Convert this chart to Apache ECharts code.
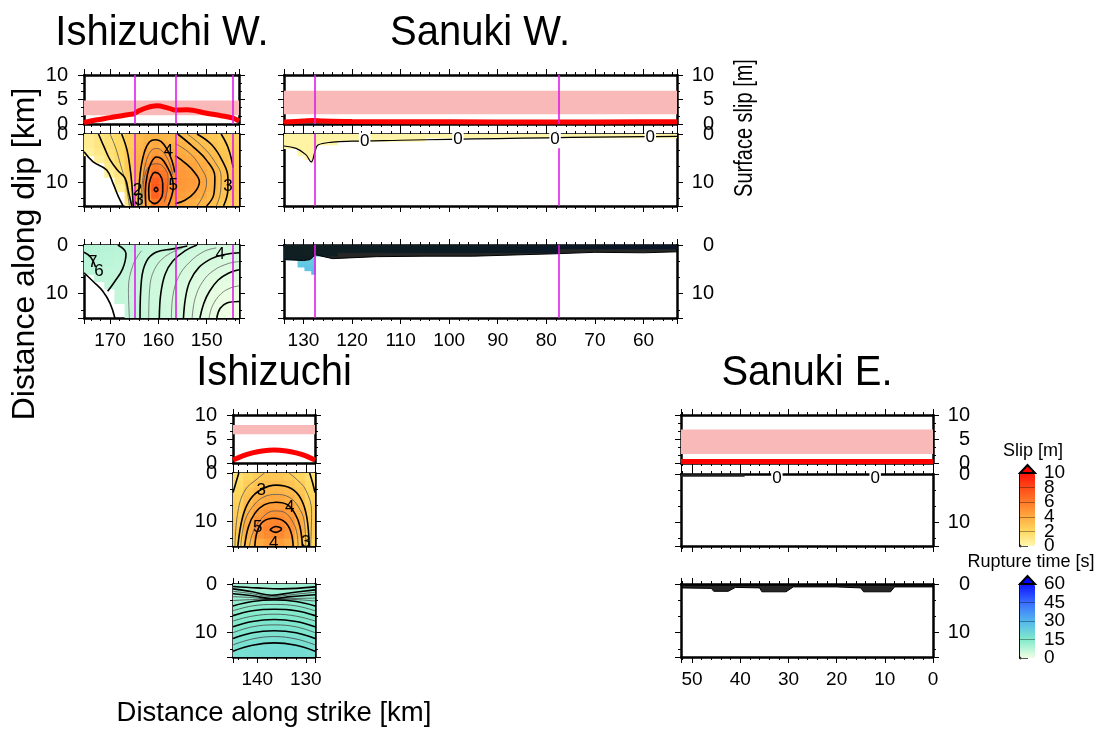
<!DOCTYPE html>
<html><head><meta charset="utf-8">
<script src="https://cdn.jsdelivr.net/npm/echarts@6/dist/echarts.min.js"></script>
<style>html,body{margin:0;padding:0;background:#fff}#c{width:1107px;height:733px}</style>
</head><body><div id="c"></div>
<script>
const FONT = "'Liberation Sans', Arial, Helvetica, sans-serif";

// ---------------- data ----------------
const depthEdges = [0, 1.5, 3, 4.5, 6, 7.5, 9, 10.5, 12, 13.5, 15];

// Ishizuchi W. (strike km)
const iwX = [175.4, 173.3, 171.2, 169.1, 167.0, 164.8, 163.1, 161.5, 159.8, 158.2, 156.5, 154.3, 152.1, 149.9, 147.7, 145.5, 143.3];
const iwSlip = [
  [0.8, 1.2, 1.5, 1.8, 2.4, 3.2, 3.5, 3.6, 3.5, 3.3, 3.3, 3.1, 2.9, 2.7, 2.4, 2.2],
  [0.8, 1.2, 1.5, 1.9, 2.5, 3.3, 3.8, 4.0, 3.9, 3.6, 3.6, 3.4, 3.1, 2.9, 2.6, 2.3],
  [0.5, 1.0, 1.4, 1.9, 2.6, 3.5, 4.2, 4.6, 4.4, 4.0, 3.9, 3.7, 3.4, 3.1, 2.8, 2.4],
  [null, 0.6, 1.2, 1.8, 2.6, 3.6, 4.6, 5.2, 4.9, 4.4, 4.2, 4.0, 3.7, 3.3, 2.9, 2.5],
  [null, null, 0.9, 1.6, 2.6, 3.8, 5.0, 5.9, 5.5, 4.8, 4.5, 4.3, 3.9, 3.5, 3.0, 2.6],
  [null, null, 0.5, 1.3, 2.5, 3.8, 5.5, 6.6, 6.1, 5.1, 4.7, 4.5, 4.1, 3.6, 3.1, 2.7],
  [null, null, null, 1.0, 2.3, 3.6, 5.8, 7.2, 6.6, 5.2, 4.8, 4.6, 4.2, 3.7, 3.1, 2.7],
  [null, null, null, 0.5, 2.0, 3.2, 5.8, 7.5, 6.8, 5.2, 4.7, 4.5, 4.1, 3.6, 3.0, 2.6],
  [null, null, null, null, 1.6, 2.8, 5.2, 7.0, 6.4, 5.0, 4.4, 4.2, 3.9, 3.4, 2.9, 2.5],
  [null, null, null, null, 1.2, 2.3, 4.2, 6.0, 5.6, 4.6, 4.0, 3.8, 3.5, 3.1, 2.7, 2.3]
];
const iwRupt = [
  [8.2, 8.0, 7.8, 7.5, 7.2, 6.9, 6.5, 6.2, 6.0, 5.8, 5.3, 4.9, 4.6, 4.3, 4.1, 4.0],
  [7.9, 7.6, 7.3, 7.0, 6.7, 6.4, 6.0, 5.6, 5.3, 5.0, 4.7, 4.4, 4.1, 3.9, 3.7, 3.6],
  [7.6, 7.2, 6.9, 6.6, 6.3, 6.0, 5.6, 5.2, 4.8, 4.5, 4.2, 3.9, 3.6, 3.4, 3.2, 3.1],
  [7.3, 6.9, 6.6, 6.3, 6.0, 5.7, 5.3, 4.9, 4.5, 4.1, 3.8, 3.4, 3.1, 2.8, 2.6, 2.5],
  [null, 6.7, 6.4, 6.1, 5.8, 5.5, 5.1, 4.7, 4.3, 3.9, 3.5, 3.0, 2.6, 2.3, 2.0, 1.9],
  [null, null, 6.3, 6.0, 5.7, 5.4, 5.0, 4.6, 4.2, 3.8, 3.3, 2.7, 2.2, 1.8, 1.5, 1.3],
  [null, null, null, 6.0, 5.7, 5.4, 5.0, 4.6, 4.2, 3.8, 3.2, 2.5, 1.9, 1.4, 1.0, 0.8],
  [null, null, null, 6.1, 5.8, 5.5, 5.1, 4.7, 4.3, 3.9, 3.2, 2.5, 1.8, 1.2, 0.7, 0.5],
  [null, null, null, null, 6.0, 5.7, 5.3, 4.9, 4.5, 4.1, 3.4, 2.6, 1.8, 1.1, 0.5, 0.3],
  [null, null, null, null, 6.3, 6.0, 5.6, 5.2, 4.8, 4.4, 3.6, 2.8, 2.0, 1.2, 0.5, 0.2]
];
// slip contours [strike km, depth km]
const iwSlipContours = [
  [[175.4, 3.7], [173.5, 5.8], [170.7, 7.5], [169.3, 10.5], [168.3, 13], [167.3, 15]],
  [[172.4, 0], [171.2, 2.8], [170.0, 5.4], [168.4, 7.6], [166.9, 9.2], [166.2, 12], [165.5, 15]],
  [[167.6, 0], [166.5, 3.3], [165.9, 6.8], [165.5, 10.3], [165.2, 15]],
  [[164.2, 15], [164.0, 11], [163.6, 7], [162.8, 3.5], [161.8, 1.6], [160.6, 1.2], [159.4, 1.6], [158.2, 3.2], [157.2, 5.5], [156.6, 8]],
  [[162.6, 15], [162.7, 12], [162.3, 8.5], [161.5, 6.0], [160.4, 4.8], [159.3, 5.2], [158.2, 6.8], [157.2, 9], [156.9, 11.0], [157.4, 13.4], [158.0, 15]],
  [[161.9, 13.8], [162.0, 11.5], [161.6, 9.2], [160.7, 8.0], [159.7, 8.5], [159.1, 10.2], [159.1, 12.2], [159.7, 13.8], [160.8, 14.5], [161.9, 13.8]],
  [[160.9, 11.6], [160.5, 11.1], [160.1, 11.6], [160.5, 12.0], [160.9, 11.6]],
  [[156.5, 4.5], [154.5, 6.0], [152.5, 8.0], [151.5, 10.0], [152.5, 12.2], [154.5, 13.8], [156.5, 14.5]],
  [[156.0, 0], [153.0, 2.5], [150.0, 5.5], [148.3, 9.0], [148.5, 12.5], [150.0, 15]],
  [[152.0, 0], [149.0, 2.2], [146.8, 5.5], [145.6, 9.0], [145.6, 11.5], [146.5, 15]],
  [[147.0, 0], [145.5, 3.0], [144.5, 7.0]]
];
const iwSlipThin = [
  [[170.0, 0], [168.8, 3.0], [167.8, 6.5], [166.8, 10.0], [166.0, 15]],
  [[163.8, 15], [163.3, 10], [162.6, 6.0], [161.5, 3.5], [160.3, 3.0], [159.0, 3.8], [157.8, 5.8], [157.0, 8.5]],
  [[163.4, 15], [163.2, 12], [162.9, 9], [162.0, 6.8], [160.5, 6.2], [159.0, 6.8], [158.0, 9.0], [158.2, 12.0], [158.8, 14.2]],
  [[156.5, 2.0], [153.5, 4.0], [151.2, 7.0], [150.0, 10.0], [150.8, 13.0], [152.0, 15]],
  [[154.0, 0], [151.0, 2.5], [148.5, 5.5], [147.0, 9.0], [147.2, 12.5], [148.0, 15]]
];
const iwSlipLabels = [[157.9, 3.7, '4'], [156.9, 10.6, '5'], [145.6, 11.0, '3'], [164.3, 11.8, '2'], [164.0, 13.8, '3']];
const iwRuptContours = [
  [[147.9, 15], [147.2, 13], [145.8, 11.9], [143.3, 11.6]],
  [[151.4, 15], [150.6, 12], [149.4, 9.5], [147.6, 7.2], [145.5, 5.8], [143.3, 5.1]],
  [[154.8, 15], [154.4, 11], [153.5, 7.5], [151.6, 4.6], [149.0, 2.8], [146.5, 2.0], [143.3, 1.6]],
  [[159.8, 15], [159.5, 10], [158.6, 6.0], [157.0, 3.3], [154.5, 1.2], [152.0, 0]],
  [[163.8, 15], [163.5, 7.2], [162.5, 3.4], [160.5, 1.5], [157.0, 0.8], [154.0, 0.2]],
  [[175.4, 5.7], [173.5, 7.5], [171.5, 9.5], [170.0, 12], [169.0, 15]],
  [[168.4, 0], [166.7, 1.8], [167.4, 4.9], [169.1, 7.6], [170.5, 9.5]],
  [[175.4, 1.5], [174.0, 2.5], [173.0, 4.5]]
];
const iwRuptThin = [
  [[149.5, 15], [148.8, 12.5], [147.0, 10.0], [145.0, 8.8], [143.3, 8.4]],
  [[153.0, 15], [152.4, 11.0], [150.8, 7.5], [148.5, 5.2], [145.5, 3.8], [143.3, 3.4]],
  [[157.3, 15], [157.0, 10.5], [155.8, 6.5], [153.5, 3.5], [150.5, 1.3], [148.0, 0.6]],
  [[162.0, 15], [161.8, 9.0], [160.8, 5.0], [158.5, 2.3], [155.0, 0.6]],
  [[166.0, 15], [166.2, 9.0], [165.2, 4.0], [163.5, 1.2]]
];
const iwRuptLabels = [[147.2, 2.0, '4'], [173.6, 3.6, '7'], [172.3, 5.4, '6']];
const iwSurf1 = [[175.4, 0.3], [173, 0.8], [170, 1.3], [167, 1.8], [164.8, 2.1]];
const iwSurf2 = [[164.8, 2.2], [164, 2.7], [162.5, 3.3], [160.3, 3.7], [158.5, 3.4], [156.5, 2.8]];
const iwSurf3 = [[156.5, 2.85], [154, 2.9], [150, 2.2], [147, 1.7], [144.5, 1.2], [143.3, 0.6]];
const iwBand = [1.8, 4.8];
const iwFaults = [164.8, 156.5, 144.5];

// Sanuki W.
const swX = [134.0, 132.6, 131.2, 129.8, 128.4, 127.6, 126, 123, 119, 113, 105, 95, 85, 77.4, 70, 62, 53.1];
const swDepth = [0, 0.75, 1.5, 2.25, 3, 3.75, 4.5, 5.25, 6];
const swSlip = [
  [0.3, 0.3, 0.3, 0.3, 0.3, 0.3, 0.3, 0.3, 0.3, 0.2, 0.2, 0.2, 0.2, 0.2, 0.2, 0.2],
  [0.3, 0.3, 0.3, 0.3, 0.3, 0.3, 0.3, 0.2, 0.2, 0.2, null, null, null, null, null, null],
  [0.3, 0.3, 0.3, 0.3, 0.3, 0.2, 0.2, null, null, null, null, null, null, null, null, null],
  [0.2, 0.3, 0.3, 0.3, 0.3, null, null, null, null, null, null, null, null, null, null, null],
  [null, null, 0.3, 0.3, 0.3, null, null, null, null, null, null, null, null, null, null, null],
  [null, null, 0.2, 0.3, 0.3, null, null, null, null, null, null, null, null, null, null, null],
  [null, null, null, 0.2, 0.3, null, null, null, null, null, null, null, null, null, null, null],
  [null, null, null, null, 0.2, null, null, null, null, null, null, null, null, null, null, null]
];
const swRupt = [
  [22, 21, 20, 20, 21, 22, 23, 24, 25, 27, 29, 31, 33, 35, 37, 39],
  [23, 22, 21, 21, 22, 23, 24, 25, 26, 28, 30, 32, 34, null, null, null],
  [24, 23, 22, 22, 23, 24, 25, null, null, null, null, null, null, null, null, null],
  [25, 24, 23, 23, 24, null, null, null, null, null, null, null, null, null, null, null],
  [null, null, 24, 24, 25, null, null, null, null, null, null, null, null, null, null, null],
  [null, null, 25, 25, 26, null, null, null, null, null, null, null, null, null, null, null],
  [null, null, null, 26, 27, null, null, null, null, null, null, null, null, null, null, null],
  [null, null, null, null, 28, null, null, null, null, null, null, null, null, null, null, null]
];
const swSlipContour = [[134, 2.5], [131.5, 3.0], [129.5, 4.3], [128.4, 5.8], [127.6, 3.6], [127.0, 2.3], [124, 1.7], [120, 1.5], [110, 1.3], [100, 1.1], [90, 0.95], [80, 0.8], [70, 0.65], [60, 0.55], [53.1, 0.5]];
const swZeroLabels = [[117.4, 1.5, '0'], [98.2, 1.1, '0'], [78.2, 1.2, '0'], [58.6, 0.7, '0']];
const swRuptClutter = [[134, 3.0], [130, 3.2], [128.6, 3.0], [127.6, 2.0], [124, 2.8], [115, 2.4], [105, 2.3], [95, 2.3], [85, 2.0], [78, 1.8], [70, 1.5], [60, 1.6], [53.1, 1.4]];
const swSurf = [[134, 0.4], [130, 0.6], [128, 0.7], [126, 0.6], [120, 0.5], [100, 0.45], [80, 0.4], [60, 0.45], [53.1, 0.45]];
const swBand = [2.0, 6.8];
const swFaults = [127.6, 77.4];

// Ishizuchi
const isX = [145.0, 142.9, 140.8, 138.7, 136.6, 134.4, 132.3, 130.2, 128.1];
const isSlip = [
  [1.5, 2.1, 2.5, 2.7, 2.7, 2.5, 2.1, 1.5],
  [1.8, 2.5, 2.9, 3.1, 3.1, 2.9, 2.5, 1.8],
  [2.0, 2.8, 3.3, 3.5, 3.5, 3.3, 2.8, 2.0],
  [2.2, 3.1, 3.7, 4.0, 4.0, 3.7, 3.1, 2.2],
  [2.4, 3.4, 4.2, 4.5, 4.5, 4.1, 3.4, 2.4],
  [2.5, 3.7, 4.6, 5.0, 5.0, 4.6, 3.7, 2.5],
  [2.6, 3.9, 5.0, 5.4, 5.5, 4.9, 3.9, 2.6],
  [2.6, 4.0, 5.1, 5.6, 5.6, 5.0, 3.9, 2.6],
  [2.5, 3.8, 4.8, 5.3, 5.3, 4.7, 3.6, 2.4],
  [2.2, 3.2, 4.0, 4.5, 4.5, 4.0, 3.0, 2.0]
];
const isRupt = [
  [11.0, 10.5, 10.5, 10.8, 11.0, 11.2, 11.5, 11.8],
  [12.0, 11.6, 11.7, 11.9, 12.1, 12.3, 12.5, 12.6],
  [13.0, 12.8, 12.9, 13.1, 13.3, 13.4, 13.5, 13.5],
  [13.8, 13.9, 14.1, 14.3, 14.4, 14.4, 14.4, 14.2],
  [14.5, 14.8, 15.1, 15.3, 15.4, 15.4, 15.2, 15.0],
  [15.2, 15.6, 16.0, 16.2, 16.3, 16.2, 16.0, 15.7],
  [15.9, 16.4, 16.8, 17.1, 17.2, 17.1, 16.8, 16.4],
  [16.6, 17.1, 17.6, 17.9, 18.0, 17.9, 17.6, 17.1],
  [17.3, 17.8, 18.3, 18.7, 18.8, 18.7, 18.3, 17.8],
  [18.0, 18.5, 19.0, 19.4, 19.5, 19.4, 19.0, 18.5]
];
const isSlipContours = [
  [[144.0, 15], [143.0, 9], [141.5, 5.5], [139.2, 3.4], [136.1, 2.5], [133.0, 3.2], [131.0, 5.3], [129.8, 9], [129.3, 15]],
  [[142.6, 15], [141.8, 11], [140.5, 8.3], [138.5, 6.5], [136.1, 6.0], [133.8, 6.5], [132.2, 8.4], [131.2, 11], [130.7, 15]],
  [[140.5, 15], [140.0, 12], [138.8, 10.0], [136.6, 9.3], [134.4, 10.0], [133.1, 12], [132.6, 15]],
  [[137.4, 11.7], [136.2, 11.0], [135.0, 11.5], [136.2, 12.2], [137.4, 11.7]],
  [[145.0, 4.0], [144.4, 2.0], [143.8, 0]],
  [[128.1, 4.0], [128.6, 2.0], [129.2, 0]]
];
const isSlipThin = [
  [[144.6, 15], [144.0, 8], [142.5, 3.5], [140.0, 1.2], [138.5, 0]],
  [[129.0, 15], [128.8, 8], [130.0, 3.5], [132.0, 1.2], [133.5, 0]],
  [[143.4, 15], [142.6, 10], [141.0, 7.0], [138.8, 5.0], [136.1, 4.4], [133.4, 5.0], [131.5, 7.0], [130.3, 10], [130.0, 15]],
  [[141.6, 15], [141.0, 12.5], [139.8, 10.2], [137.8, 8.2], [136.1, 7.8], [134.2, 8.2], [132.6, 10.2], [131.8, 12.5], [131.6, 15]]
];
const isSlipLabels = [[139.2, 3.6, '3'], [133.3, 7.0, '4'], [139.9, 11.1, '5'], [136.6, 14.4, '4'], [130.0, 14.3, '3']];
const isRuptContours = [
  [[145, 0.5], [140, 0.8], [135, 1.0], [128.1, 0.6]],
  [[145, 1.0], [141, 1.6], [137, 2.3], [133, 1.8], [128.1, 1.2]],
  [[145, 2.0], [141, 2.4], [137, 3.0], [133, 2.6], [128.1, 2.2]],
  [[145, 4.5], [141, 3.6], [136.5, 3.3], [132, 3.6], [128.1, 4.5]],
  [[145, 6.5], [141, 5.5], [136.5, 5.2], [132, 5.5], [128.1, 6.5]],
  [[145, 8.8], [141, 7.7], [136.5, 7.3], [132, 7.7], [128.1, 8.8]],
  [[145, 11.2], [141, 10.0], [136.5, 9.6], [132, 10.0], [128.1, 11.2]],
  [[145, 13.8], [141, 12.6], [136.5, 12.1], [132, 12.6], [128.1, 13.8]]
];
const isRuptThin = [
  [[145, 1.5], [141, 2.0], [137, 2.6], [133, 2.2], [128.1, 1.7]],
  [[145, 2.6], [141, 2.8], [137, 3.2], [133, 3.0], [128.1, 2.9]],
  [[145, 3.4], [141, 3.2], [136.5, 3.1], [132, 3.2], [128.1, 3.5]],
  [[145, 5.5], [141, 4.5], [136.5, 4.2], [132, 4.5], [128.1, 5.5]],
  [[145, 7.6], [141, 6.6], [136.5, 6.2], [132, 6.6], [128.1, 7.6]],
  [[145, 10.0], [141, 8.8], [136.5, 8.4], [132, 8.8], [128.1, 10.0]],
  [[145, 12.5], [141, 11.3], [136.5, 10.8], [132, 11.3], [128.1, 12.5]]
];
const isSurf = [[145, 0.6], [143, 1.5], [141, 2.1], [139, 2.5], [136.5, 2.7], [134, 2.5], [132, 2.1], [130, 1.5], [128.1, 0.6]];
const isBand = [6.0, 7.9];

// Sanuki E.
const seSurf = [[52.3, 0.3], [40, 0.3], [20, 0.3], [0, 0.3]];
const seBand = [1.9, 7.0];
const seSlipLine = [[52.3, 0.3], [46, 0.3], [39.1, 0.3]];
const seZeroLabels = [[32.4, 0.9, '0'], [12.0, 0.9, '0']];
const seRuptClutter = [[52.3, 0.8], [46, 0.9], [45.5, 1.5], [42.5, 1.5], [41, 0.7], [36, 0.8], [35.5, 1.6], [30.5, 1.6], [29, 0.6], [20, 0.6], [15, 0.8], [14.4, 1.6], [8.8, 1.6], [8, 0.6], [0, 0.6]];

// colour scales
const slipTicks = [0, 2, 4, 6, 8, 10];
const slipColors = ['#fff8b0', '#ffd860', '#ffaa40', '#ff7a28', '#ff4a18', '#ff1008'];
const ruptTicks = [0, 15, 30, 45, 60];
const ruptColors = ['#f0ffe4', '#82eacb', '#52b6ee', '#3a6cff', '#0c14ff'];

// ---------------- build ----------------
const grids = [], xAxes = [], yAxes = [], series = [];
const slipIdx = [], ruptIdx = [];

function xFmt(v) { return Math.abs(v / 10 - Math.round(v / 10)) < 1e-6 ? String(Math.round(v)) : ''; }

function addPanel(p) {
  const gi = grids.length;
  grids.push({ left: p.l, top: p.t, width: p.w, height: p.h, show: false });
  const xb = {
    gridIndex: gi, type: 'value', min: p.x0, max: p.x1, inverse: true, splitNumber: p.xs,
    splitLine: { show: false },
    axisLine: { show: true, onZero: false, lineStyle: { color: '#000', width: 2.5 } },
    axisTick: { show: true, length: 6, lineStyle: { color: '#000', width: 1 } },
    minorTick: { show: true, splitNumber: 5, length: 3, lineStyle: { color: '#000', width: 1 } }
  };
  xAxes.push(Object.assign({}, xb, { position: 'bottom', axisLabel: { show: !!p.xLab, formatter: xFmt, fontSize: 19, fontFamily: FONT, color: '#000', margin: 13, hideOverlap: false } }));
  xAxes.push(Object.assign({}, xb, { position: 'top', axisLabel: { show: false } }));
  const yb = {
    gridIndex: gi, type: 'value', min: p.y0, max: p.y1, inverse: !!p.yInv, interval: p.yi,
    splitLine: { show: false },
    axisLine: { show: true, onZero: false, lineStyle: { color: '#000', width: 2.5 } },
    axisTick: { show: true, length: 6, lineStyle: { color: '#000', width: 1 } },
    minorTick: { show: true, splitNumber: 3, length: 3, lineStyle: { color: '#000', width: 1 } }
  };
  const yFmt = v => (Math.abs(v / p.yi - Math.round(v / p.yi)) < 1e-6 ? String(Math.round(v)) : '');
  const lab = { fontSize: 20, fontFamily: FONT, color: '#000', formatter: yFmt, showMinLabel: true, showMaxLabel: true, hideOverlap: false };
  yAxes.push(Object.assign({}, yb, { position: 'left', axisLabel: Object.assign({ show: p.ySide === 'left', margin: 16 }, lab) }));
  yAxes.push(Object.assign({}, yb, { position: 'right', axisLabel: Object.assign({ show: p.ySide === 'right', margin: 37, align: 'right' }, lab) }));
  return gi;
}

function cellRender(params, api) {
  const a = api.coord([api.value(0), api.value(2)]);
  const b = api.coord([api.value(1), api.value(3)]);
  return {
    type: 'rect',
    shape: { x: Math.min(a[0], b[0]), y: Math.min(a[1], b[1]), width: Math.abs(b[0] - a[0]) + 0.6, height: Math.abs(b[1] - a[1]) + 0.6 },
    style: { fill: api.visual('color') }
  };
}
function cells(gi, xe, ye, rows, bucket) {
  const data = [];
  rows.forEach((row, r) => row.forEach((v, c) => { if (v !== null) data.push([xe[c], xe[c + 1], ye[r], ye[r + 1], v]); }));
  bucket.push(series.length);
  series.push({ type: 'custom', xAxisIndex: 2 * gi, yAxisIndex: 2 * gi, data, renderItem: cellRender, clip: true, silent: true, encode: { x: [0, 1], y: [2, 3] }, z: 1 });
}
function faultLines(gi, xs) {
  series.push({
    type: 'line', xAxisIndex: 2 * gi, yAxisIndex: 2 * gi, data: [], silent: true, z: 5,
    markLine: { silent: true, symbol: ['none', 'none'], label: { show: false }, animation: false,
      lineStyle: { color: '#e01ee6', width: 1.6, type: 'solid' }, data: xs.map(x => ({ xAxis: x })) }
  });
}
function surfLine(gi, pts, band) {
  const s = { type: 'line', xAxisIndex: 2 * gi, yAxisIndex: 2 * gi, data: pts, symbol: 'none', smooth: 0.35, clip: true, silent: true, z: 4,
    lineStyle: { color: '#ff0000', width: 5 } };
  if (band) s.markArea = { silent: true, itemStyle: { color: '#f9b9b9' }, data: [[{ yAxis: band[0] }, { yAxis: band[1] }]] };
  series.push(s);
}
function contours(gi, lines, w, color) {
  lines.forEach(pts => series.push({ type: 'line', xAxisIndex: 2 * gi, yAxisIndex: 2 * gi, data: pts, symbol: 'none', smooth: 0.4,
    clip: true, silent: true, z: 3, lineStyle: { color: color, width: w } }));
}
function blackBand(gi, pts) {
  series.push({ type: 'line', xAxisIndex: 2 * gi, yAxisIndex: 2 * gi, data: pts, symbol: 'none', silent: true, z: 3, clip: true,
    lineStyle: { color: '#000', width: 1 }, areaStyle: { color: '#000', opacity: 0.85, origin: 'start' } });
}
function cLabels(gi, pts, bg) {
  series.push({ type: 'scatter', xAxisIndex: 2 * gi, yAxisIndex: 2 * gi, data: pts, symbolSize: 0, silent: true, z: 6,
    itemStyle: { opacity: 1 },
    label: { show: true, position: 'inside', formatter: p => p.value[2], fontSize: 17, fontFamily: FONT, color: '#000', opacity: 1,
      backgroundColor: bg || 'transparent', padding: [0, 1] } });
}

// ----- panels -----
const iwS = addPanel({ l: 84, t: 75, w: 155, h: 49, x0: 143.3, x1: 175.4, xs: 3, y0: 0, y1: 10, yi: 5, ySide: 'left' });
const iwD = addPanel({ l: 84, t: 134, w: 155, h: 72, x0: 143.3, x1: 175.4, xs: 3, y0: 0, y1: 15, yi: 10, yInv: true, ySide: 'left' });
const iwR = addPanel({ l: 84, t: 245, w: 155, h: 73, x0: 143.3, x1: 175.4, xs: 3, y0: 0, y1: 15, yi: 10, yInv: true, ySide: 'left', xLab: true });
const swS = addPanel({ l: 284, t: 75, w: 393, h: 49, x0: 53.1, x1: 134.0, xs: 8, y0: 0, y1: 10, yi: 5, ySide: 'right' });
const swD = addPanel({ l: 284, t: 134, w: 393, h: 72, x0: 53.1, x1: 134.0, xs: 8, y0: 0, y1: 15, yi: 10, yInv: true, ySide: 'right' });
const swR = addPanel({ l: 284, t: 245, w: 393, h: 73, x0: 53.1, x1: 134.0, xs: 8, y0: 0, y1: 15, yi: 10, yInv: true, ySide: 'right', xLab: true });
const isS = addPanel({ l: 233, t: 415, w: 82, h: 48, x0: 128.1, x1: 145.0, xs: 2, y0: 0, y1: 10, yi: 5, ySide: 'left' });
const isD = addPanel({ l: 233, t: 473, w: 82, h: 73, x0: 128.1, x1: 145.0, xs: 2, y0: 0, y1: 15, yi: 10, yInv: true, ySide: 'left' });
const isR = addPanel({ l: 233, t: 584, w: 82, h: 73, x0: 128.1, x1: 145.0, xs: 2, y0: 0, y1: 15, yi: 10, yInv: true, ySide: 'left', xLab: true });
const seS = addPanel({ l: 681, t: 415, w: 252, h: 48, x0: 0, x1: 52.3, xs: 5, y0: 0, y1: 10, yi: 5, ySide: 'right' });
const seD = addPanel({ l: 681, t: 474, w: 252, h: 72, x0: 0, x1: 52.3, xs: 5, y0: 0, y1: 15, yi: 10, yInv: true, ySide: 'right' });
const seR = addPanel({ l: 681, t: 584, w: 252, h: 73, x0: 0, x1: 52.3, xs: 5, y0: 0, y1: 15, yi: 10, yInv: true, ySide: 'right', xLab: true });

// Ishizuchi W.
surfLine(iwS, iwSurf1, iwBand); surfLine(iwS, iwSurf2); surfLine(iwS, iwSurf3); faultLines(iwS, iwFaults);
cells(iwD, iwX, depthEdges, iwSlip, slipIdx);
contours(iwD, iwSlipThin, 0.8, '#555'); contours(iwD, iwSlipContours, 1.6, '#000'); cLabels(iwD, iwSlipLabels);
faultLines(iwD, iwFaults);
cells(iwR, iwX, depthEdges, iwRupt, ruptIdx);
contours(iwR, iwRuptThin, 0.8, '#666'); contours(iwR, iwRuptContours, 1.6, '#000'); cLabels(iwR, iwRuptLabels);
faultLines(iwR, iwFaults);
// Sanuki W.
surfLine(swS, swSurf, swBand); faultLines(swS, swFaults);
cells(swD, swX, swDepth, swSlip, slipIdx); contours(swD, [swSlipContour], 1.2, '#000'); cLabels(swD, swZeroLabels, '#fff'); faultLines(swD, swFaults);
cells(swR, swX, swDepth, swRupt, ruptIdx); blackBand(swR, swRuptClutter); faultLines(swR, swFaults);
// Ishizuchi
surfLine(isS, isSurf, isBand);
cells(isD, isX, depthEdges, isSlip, slipIdx);
contours(isD, isSlipThin, 0.8, '#555'); contours(isD, isSlipContours, 1.6, '#000'); cLabels(isD, isSlipLabels);
cells(isR, isX, depthEdges, isRupt, ruptIdx);
contours(isR, isRuptThin, 0.8, '#444'); contours(isR, isRuptContours, 1.6, '#000');
// Sanuki E.
surfLine(seS, seSurf, seBand);
contours(seD, [seSlipLine], 2.5, '#222'); cLabels(seD, seZeroLabels, '#fff');
blackBand(seR, seRuptClutter);

// ----- colour bars -----
function addBar(t, h, max, interval) {
  const gi = grids.length;
  grids.push({ left: 1020, top: t, width: 15, height: h, show: false });
  xAxes.push({ gridIndex: gi, type: 'value', min: 0, max: 1, show: false });
  xAxes.push({ gridIndex: gi, type: 'value', min: 0, max: 1, show: false });
  const yb = { gridIndex: gi, type: 'value', min: 0, max: max, interval: interval, splitLine: { show: false },
    axisLine: { show: true, lineStyle: { color: '#000', width: 2.5 } } };
  yAxes.push(Object.assign({}, yb, { position: 'left', axisTick: { show: false }, axisLabel: { show: false } }));
  yAxes.push(Object.assign({}, yb, { position: 'right', axisTick: { show: true, length: 8, lineStyle: { color: '#555' } },
    axisLabel: { show: false } }));
  return gi;
}
const cbS = addBar(473, 73, 10, 2);
const cbR = addBar(584, 74, 60, 15);
function barLabels(gi, ticks) {
  series.push({ type: 'scatter', xAxisIndex: 2 * gi, yAxisIndex: 2 * gi, data: ticks.map(v => [1, v]), symbolSize: 0, silent: true, z: 6, clip: false,
    itemStyle: { opacity: 1 },
    label: { show: true, position: 'right', distance: 9, formatter: p => String(p.value[1]), fontSize: 19, fontFamily: FONT, color: '#000', opacity: 1 } });
}
barLabels(cbS, slipTicks); barLabels(cbR, ruptTicks);
function triangle(gi, top, color) {
  series.push({ type: 'custom', xAxisIndex: 2 * gi, yAxisIndex: 2 * gi, data: [[top]], silent: true, z: 5,
    renderItem: (p, api) => {
      const a = api.coord([0, api.value(0)]), b = api.coord([1, api.value(0)]);
      return { type: 'polygon', shape: { points: [[a[0], a[1]], [b[0], b[1]], [(a[0] + b[0]) / 2, a[1] - 8]] },
        style: { fill: color, stroke: '#000', lineWidth: 2 } };
    } });
}
triangle(cbS, 10, '#ff0000');
triangle(cbR, 60, '#0000ff');
function sepLines(gi, ticks) {
  series.push({ type: 'line', xAxisIndex: 2 * gi, yAxisIndex: 2 * gi, data: [], silent: true, z: 4,
    markLine: { silent: true, symbol: ['none', 'none'], label: { show: false }, animation: false,
      lineStyle: { color: 'rgba(0,0,0,0.35)', width: 1, type: 'solid' }, data: ticks.slice(1, -1).map(v => ({ yAxis: v })) } });
}
sepLines(cbS, slipTicks); sepLines(cbR, ruptTicks);

const T = (txt, x, y, size, opts) => Object.assign({ type: 'text', x: x, y: y, silent: true, z: 10,
  style: { text: txt, fill: '#000', font: size + 'px ' + FONT, textAlign: 'center', textVerticalAlign: 'middle' } }, opts || {});

const option = {
  animation: false,
  backgroundColor: '#fff',
  grid: grids, xAxis: xAxes, yAxis: yAxes, series: series,
  visualMap: [
    { type: 'continuous', min: 0, max: 10, dimension: 4, seriesIndex: slipIdx, inRange: { color: slipColors },
      calculable: false, hoverLink: false, orient: 'vertical', left: 1020, top: 473, itemWidth: 15, itemHeight: 73, padding: 0, text: null },
    { type: 'continuous', min: 0, max: 60, dimension: 4, seriesIndex: ruptIdx, inRange: { color: ruptColors },
      calculable: false, hoverLink: false, orient: 'vertical', left: 1020, top: 584, itemWidth: 15, itemHeight: 74, padding: 0, text: null }
  ],
  graphic: [
    T('Ishizuchi W.', 162, 33, 43, { scaleX: 0.93 }),
    T('Sanuki W.', 480, 33, 43, { scaleX: 0.93 }),
    T('Ishizuchi', 274, 373, 43, { scaleX: 0.93 }),
    T('Sanuki E.', 807, 373, 43, { scaleX: 0.93 }),
    T('Distance along dip [km]', 25, 254, 32, { rotation: Math.PI / 2 }),
    T('Distance along strike [km]', 274, 713, 27.5),
    T('Surface slip [m]', 745, 128, 25, { rotation: Math.PI / 2, scaleX: 0.8 }),
    T('Slip [m]', 1033, 451, 18),
    T('Rupture time [s]', 1031, 562, 18)
  ]
};
const chart = echarts.init(document.getElementById('c'), null, { renderer: 'canvas' });
chart.setOption(option);
</script>
</body></html>
